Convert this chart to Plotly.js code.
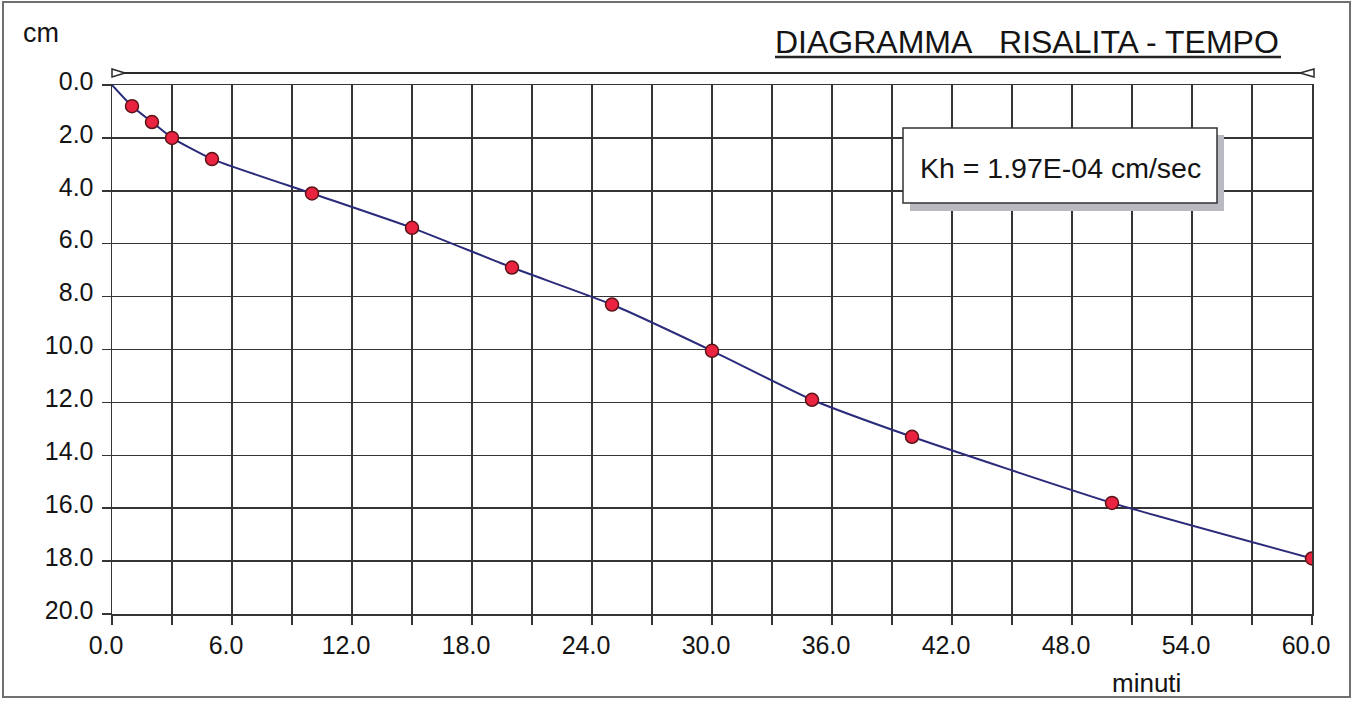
<!DOCTYPE html>
<html>
<head>
<meta charset="utf-8">
<script src="https://cdn.plot.ly/plotly-3.0.1.min.js"></script>
<style>
  html, body { margin: 0; padding: 0; background: #ffffff; }
  #chart { width: 1367px; height: 704px; }
</style>
</head>
<body>
<div id="chart"></div>
<script>
// ---- data ----
const timeMin = [0, 1, 2, 3, 5, 10, 15, 20, 25, 30, 35, 40, 50, 60];
const riseCm  = [0, 0.8, 1.4, 2.0, 2.8, 4.1, 5.4, 6.9, 8.3, 10.05, 11.9, 13.3, 15.8, 17.9];
const chartTitle = "DIAGRAMMA\u00a0\u00a0\u00a0RISALITA - TEMPO";
const khLabel = "Kh = 1.97E-04 cm/sec";
const xLabel = "minuti";
const yLabel = "cm";

// ---- layout geometry ----
const W = 1367, H = 704;
const L = 112, R = 55, T = 85, B = 90;
const PW = W - L - R, PH = H - T - B;
const px = v => (v - L) / PW;          // pixel x -> paper x
const py = v => (H - B - v) / PH;      // pixel y -> paper y

const FONT = "Liberation Sans, Arial, sans-serif";
const GRID = "#353535";
const TXT = "#141414";

const traces = [
  {
    x: timeMin, y: riseCm, type: "scatter", mode: "lines",
    line: { color: "#2b2b7c", width: 2, shape: "spline", smoothing: 0.5 },
    hoverinfo: "skip", showlegend: false
  },
  {
    x: timeMin.slice(1), y: riseCm.slice(1), type: "scatter", mode: "markers",
    marker: { color: "#ea2440", size: 13, line: { color: "#5a1418", width: 1.5 } },
    showlegend: false
  }
];

const shapes = [
  // outer frame
  { type: "rect", xref: "paper", yref: "paper", x0: px(3), x1: px(1350), y0: py(697), y1: py(2),
    line: { color: "#707070", width: 2 }, fillcolor: "rgba(0,0,0,0)", layer: "below" },
  // water-level line above the plot
  { type: "line", xref: "paper", yref: "paper", x0: px(112), x1: px(1312), y0: py(73), y1: py(73),
    line: { color: "#2a2a2a", width: 2 } },
  { type: "path", xref: "paper", yref: "paper",
    path: `M ${px(112)} ${py(69)} L ${px(125)} ${py(73)} L ${px(112)} ${py(77)} Z`,
    line: { color: "#2a2a2a", width: 1.5 }, fillcolor: "#ffffff" },
  { type: "path", xref: "paper", yref: "paper",
    path: `M ${px(1314)} ${py(69)} L ${px(1300)} ${py(73)} L ${px(1314)} ${py(77)} Z`,
    line: { color: "#2a2a2a", width: 1.5 }, fillcolor: "#ffffff" },
  // title underline
  { type: "line", xref: "paper", yref: "paper", x0: px(775), x1: px(1281), y0: py(57), y1: py(57),
    line: { color: "#222222", width: 2.5 } },
  // Kh box shadow and box
  { type: "rect", xref: "paper", yref: "paper", x0: px(910), x1: px(1224), y0: py(211), y1: py(135),
    line: { width: 0 }, fillcolor: "#b9b9c2", layer: "above" },
  { type: "rect", xref: "paper", yref: "paper", x0: px(903), x1: px(1217), y0: py(203), y1: py(128),
    line: { color: "#333333", width: 1.5 }, fillcolor: "#ffffff", layer: "above" }
];

const annotations = [
  { text: chartTitle, xref: "paper", yref: "paper", x: px(1027), y: py(42),
    xanchor: "center", yanchor: "middle", showarrow: false,
    font: { family: FONT, size: 32, color: TXT } },
  { text: khLabel, xref: "paper", yref: "paper", x: px(1060), y: py(168),
    xanchor: "center", yanchor: "middle", showarrow: false,
    font: { family: FONT, size: 28.5, color: TXT } },
  { text: yLabel, xref: "paper", yref: "paper", x: px(21), y: py(33),
    xanchor: "left", yanchor: "middle", showarrow: false,
    font: { family: FONT, size: 27, color: TXT } },
  { text: xLabel, xref: "paper", yref: "paper", x: px(1146), y: py(683),
    xanchor: "center", yanchor: "middle", showarrow: false,
    font: { family: FONT, size: 26, color: TXT } }
];

const layout = {
  width: W, height: H,
  margin: { l: L, r: R, t: T, b: B, pad: 0 },
  paper_bgcolor: "#ffffff", plot_bgcolor: "#ffffff",
  showlegend: false,
  font: { family: FONT, size: 25, color: TXT },
  xaxis: {
    range: [0, 60], dtick: 6, tick0: 0, tickformat: ".1f",
    showgrid: true, gridcolor: GRID, gridwidth: 1.5,
    showline: true, linecolor: GRID, linewidth: 1.5, mirror: true,
    ticks: "outside", ticklen: 9, tickwidth: 1.5, tickcolor: GRID,
    ticklabelstandoff: -1, ticklabelshift: -6,
    minor: { dtick: 3, showgrid: true, gridcolor: GRID, gridwidth: 1.5,
             ticks: "outside", ticklen: 9, tickwidth: 1.5, tickcolor: GRID },
    zeroline: false, fixedrange: true,
    tickfont: { family: FONT, size: 25, color: TXT }
  },
  yaxis: {
    range: [20, 0], dtick: 2, tick0: 0, tickformat: ".1f",
    showgrid: true, gridcolor: GRID, gridwidth: 1.5,
    showline: true, linecolor: GRID, linewidth: 1.5, mirror: true,
    ticks: "outside", ticklen: 9, tickwidth: 1.5, tickcolor: GRID,
    ticklabelstandoff: 3, ticklabelshift: 4,
    zeroline: false, fixedrange: true,
    tickfont: { family: FONT, size: 25, color: TXT }
  },
  shapes: shapes,
  annotations: annotations
};

Plotly.newPlot("chart", traces, layout, { displayModeBar: false, staticPlot: true });
</script>
</body>
</html>
